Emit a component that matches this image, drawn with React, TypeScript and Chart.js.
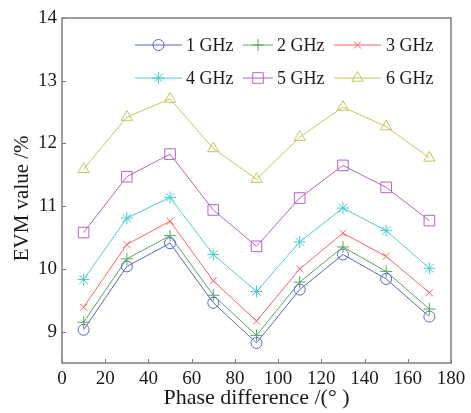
import { useEffect, useRef } from 'react';
import { Chart, registerables } from 'chart.js';
import { drawPoint } from 'chart.js/helpers';

Chart.register(...registerables);

const phases = [10, 30, 50, 70, 90, 110, 130, 150, 170];
const evm1 = [9.03, 10.04, 10.41, 9.46, 8.82, 9.67, 10.23, 9.84, 9.24];
const evm2 = [9.15, 10.16, 10.53, 9.58, 8.94, 9.79, 10.35, 9.96, 9.36];
const evm3 = [9.39, 10.39, 10.76, 9.81, 9.17, 10.0, 10.57, 10.2, 9.62];
const evm4 = [9.83, 10.81, 11.14, 10.23, 9.64, 10.43, 10.97, 10.61, 10.01];
const evm5 = [10.58, 11.47, 11.83, 10.94, 10.36, 11.13, 11.65, 11.3, 10.77];
const evm6 = [11.59, 12.42, 12.71, 11.92, 11.43, 12.1, 12.58, 12.27, 11.77];
const seriesLabels = ['1 GHz', '2 GHz', '3 GHz', '4 GHz', '5 GHz', '6 GHz'];
const xTickValues = [0, 20, 40, 60, 80, 100, 120, 140, 160, 180];
const yTickValues = [9, 10, 11, 12, 13, 14];

const seriesValues = [evm1, evm2, evm3, evm4, evm5, evm6];
const colors = ['#5666c8', '#55a857', '#ff6464', '#4dcccc', '#b464c4', '#c6c45c'];
const markers = [
  { pointStyle: 'circle', radius: 5.5 },
  { pointStyle: 'cross', radius: 6 },
  { pointStyle: 'crossRot', radius: 5 },
  { pointStyle: 'star', radius: 6 },
  { pointStyle: 'rect', radius: 7.5 },
  { pointStyle: 'triangle', radius: 6.5 },
];

const FONT = "'Liberation Serif', 'Times New Roman', serif";
const TEXT = '#1a1a1a';
const AXIS = '#7f7f7f';

// legend layout: [lineStart, lineEnd, textX] per column, rows y
const legendCols = [
  [135, 182, 186],
  [243, 273, 277],
  [334, 381, 386],
];
const legendRows = [45, 78];

const framePlugin = {
  id: 'frameTicks',
  afterDraw(chart: any) {
    const { ctx, chartArea: a, scales } = chart;
    ctx.save();
    ctx.strokeStyle = AXIS;
    ctx.lineWidth = 1;
    ctx.beginPath();
    xTickValues.forEach((v) => {
      const px = Math.round(scales.x.getPixelForValue(v)) + 0.5;
      ctx.moveTo(px, a.bottom);
      ctx.lineTo(px, a.bottom - 4);
    });
    yTickValues.forEach((v) => {
      const py = Math.round(scales.y.getPixelForValue(v)) + 0.5;
      ctx.moveTo(a.left, py);
      ctx.lineTo(a.left + 4, py);
    });
    ctx.stroke();
    ctx.lineWidth = 1.5;
    ctx.strokeStyle = AXIS;
    ctx.strokeRect(a.left, a.top, a.right - a.left, a.bottom - a.top);
    ctx.restore();

    // legend
    ctx.save();
    ctx.font = `18px ${FONT}`;
    ctx.textBaseline = 'middle';
    chart.data.datasets.forEach((ds: any, i: number) => {
      const col = legendCols[i % 3];
      const y = legendRows[Math.floor(i / 3)];
      ctx.strokeStyle = ds.borderColor;
      ctx.fillStyle = 'rgba(0,0,0,0)';
      ctx.lineWidth = 1;
      ctx.beginPath();
      ctx.moveTo(col[0], y);
      ctx.lineTo(col[1], y);
      ctx.stroke();
      drawPoint(ctx, { pointStyle: ds.pointStyle, radius: ds.pointRadius, rotation: 0, borderWidth: 1 } as any, (col[0] + col[1]) / 2, y);
      ctx.fillStyle = TEXT;
      ctx.fillText(ds.label, col[2], y + 1);
    });
    ctx.restore();
  },
};

export default function App() {
  const ref = useRef<HTMLCanvasElement | null>(null);
  useEffect(() => {
    if (!ref.current) return;
    const chart = new Chart(ref.current, {
      type: 'line',
      data: {
        datasets: seriesValues.map((vals, i) => ({
          label: seriesLabels[i],
          data: vals.map((v, j) => ({ x: phases[j], y: v })),
          borderColor: colors[i],
          backgroundColor: 'rgba(0,0,0,0)',
          borderWidth: 1,
          pointStyle: markers[i].pointStyle as any,
          pointRadius: markers[i].radius,
          pointBorderWidth: 1,
          pointBorderColor: colors[i],
          pointBackgroundColor: 'rgba(0,0,0,0)',
          fill: false,
          tension: 0,
        })),
      },
      options: {
        responsive: false,
        animation: false,
        events: [],
        layout: { padding: { left: 0, right: 20, top: 18, bottom: 0 } },
        plugins: { legend: { display: false }, tooltip: { enabled: false } },
        scales: {
          x: {
            type: 'linear',
            min: 0,
            max: 180,
            afterBuildTicks: (s: any) => {
              s.ticks = xTickValues.map((v) => ({ value: v }));
            },
            afterFit: (s: any) => {
              s.height = 50;
            },
            ticks: { font: { family: FONT, size: 19 }, color: TEXT, padding: 5 },
            grid: { display: false, drawTicks: false },
            border: { display: false },
            title: {
              display: true,
              text: 'Phase difference /(° )',
              font: { family: FONT, size: 22 },
              color: TEXT,
              padding: { top: 0, bottom: 2 },
            },
          },
          y: {
            type: 'linear',
            min: 8.5,
            max: 14,
            afterBuildTicks: (s: any) => {
              s.ticks = yTickValues.map((v) => ({ value: v }));
            },
            afterFit: (s: any) => {
              s.width = 62;
            },
            ticks: { font: { family: FONT, size: 19 }, color: TEXT, padding: 5 },
            grid: { display: false, drawTicks: false },
            border: { display: false },
            title: {
              display: true,
              text: 'EVM value /%   ',
              font: { family: FONT, size: 21 },
              color: TEXT,
              padding: { top: 10, bottom: 0 },
            },
          },
        },
      },
      plugins: [framePlugin],
    });
    return () => chart.destroy();
  }, []);
  return (
    <div style={{ position: 'fixed', left: 0, top: 0, width: 471, height: 413, background: '#fff' }}>
      <canvas ref={ref} width={471} height={413} style={{ display: 'block' }} />
    </div>
  );
}
